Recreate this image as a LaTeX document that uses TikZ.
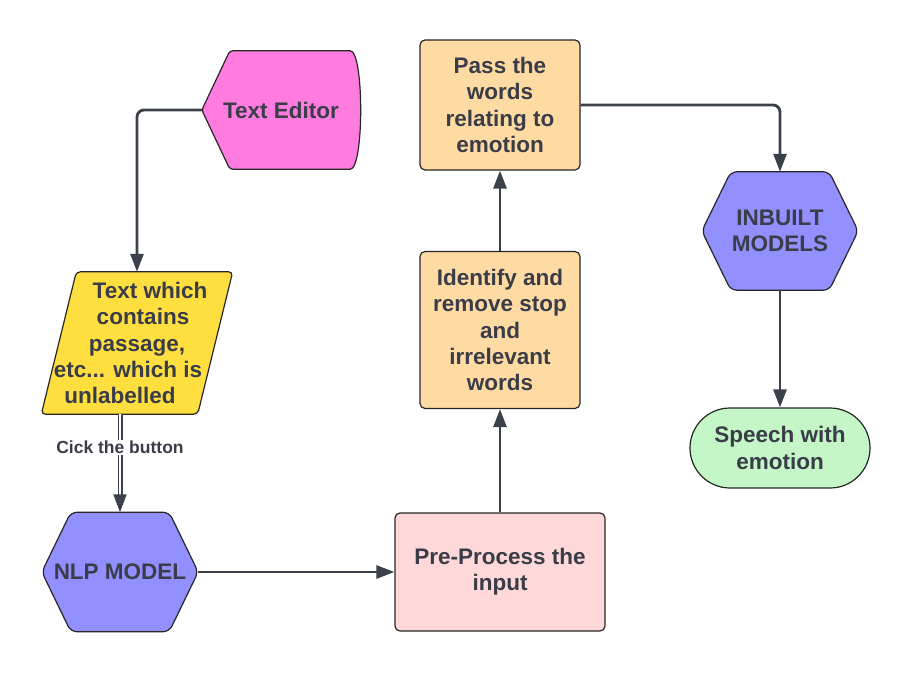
\documentclass[tikz,border=0pt]{standalone}
\usepackage{fontspec}
\setmainfont{Liberation Sans}
\usetikzlibrary{positioning, arrows.meta, shapes.misc, backgrounds}

\definecolor{inkgray}{HTML}{3A3D48}
\definecolor{linegray}{HTML}{3B404A}
\definecolor{editorpink}{HTML}{FF7BDF}
\definecolor{inputyellow}{HTML}{FFDF40}
\definecolor{modelblue}{HTML}{9290FF}
\definecolor{prepink}{HTML}{FFD9D9}
\definecolor{steporange}{HTML}{FFDBA4}
\definecolor{endgreen}{HTML}{C4F6C8}

\tikzset{
    base/.style={font=\fontsize{22.5}{26.3}\selectfont\bfseries, text=inkgray, align=center, inner sep=0pt},
    border/.style={draw=black!85, line width=1.2pt},
    procbox/.style={base, border, rounded corners=5pt, minimum width=160pt},
    endbox/.style={base, border, fill=endgreen, rounded rectangle, minimum width=180pt, minimum height=80pt},
    line/.style={draw=linegray, line width=2.8pt},
    dline/.style={draw=linegray, line width=1.9pt, double=white, double distance=1.2pt},
    lbl/.style={fill=white, text=inkgray, font=\fontsize{17.5}{20}\selectfont\bfseries, inner sep=1pt},
}

% hexagon drawn round a plain node
\newcommand{\hexround}[2]{%
    \filldraw[border, fill=#2, rounded corners=6pt] (#1.west) -- ([xshift=29pt]#1.north west) -- ([xshift=-29pt]#1.north east)
        -- (#1.east) -- ([xshift=-29pt]#1.south east) -- ([xshift=29pt]#1.south west) -- cycle;}

\begin{document}
\begin{tikzpicture}[x=1pt, y=1pt, on grid, >={Triangle[width=13pt, length=18pt]}]
    \useasboundingbox (0,0) rectangle (910,-674);

    \node[base, minimum width=158pt, minimum height=118pt] (editor) at (281,-110) {Text Editor};
    \node[base, minimum width=191pt, minimum height=142pt] (text) [below left=233pt and 144pt of editor]
        {\hspace*{26pt}Text which\\ \hspace*{12pt}contains\\ passage,\\ etc... which is\kern18pt\mbox{}\\ unlabelled\kern34pt\mbox{}};
    \node[base, minimum width=156pt, minimum height=119pt] (nlp) [below left=229pt and 17pt of text] {NLP MODEL};
    \node[procbox, fill=prepink, minimum width=210pt, minimum height=118pt] (prep) [right=380pt of nlp] {Pre-Process the\\ input};
    \node[procbox, fill=steporange, minimum height=157pt] (clean) [above=242pt of prep] {Identify and\\ remove stop\\ and\\ irrelevant\\ words};
    \node[procbox, fill=steporange, minimum height=130pt] (pass) [above=225pt of clean] {Pass the\\ words\\ relating to\\ emotion};
    \node[base, minimum width=156pt, minimum height=118pt] (inbuilt) [below right=126pt and 280pt of pass] {INBUILT\\ MODELS};
    \node[endbox] (speech) [below=217pt of inbuilt] {Speech with\\ emotion};

    \begin{scope}[on background layer]
        \filldraw[border, fill=editorpink, rounded corners=3pt]
            (editor.west) -- ([xshift=28pt]editor.north west) -- ([xshift=-13pt]editor.north east)
            .. controls ([xshift=4pt]editor.north east) and ([xshift=4pt]editor.south east) .. ([xshift=-13pt]editor.south east)
            -- ([xshift=28pt]editor.south west) -- cycle;
        \filldraw[border, fill=inputyellow, rounded corners=4pt]
            ([xshift=35pt]text.north west) -- (text.north east) -- ([xshift=-35pt]text.south east) -- (text.south west) -- cycle;
        \hexround{nlp}{modelblue}
        \hexround{inbuilt}{modelblue}
    \end{scope}

    \draw[line, ->, rounded corners=7pt] (editor.west) -| (text);
    \draw[dline, ->] (nlp.north |- text.south) -- node[lbl, pos=0.34] {Cick the button} (nlp.north);
    \draw[line, ->] (nlp) -- (prep);
    \draw[line, ->] (prep) -- (clean);
    \draw[line, ->] (clean) -- (pass);
    \draw[line, ->, rounded corners=7pt] (pass) -| (inbuilt);
    \draw[line, ->] (inbuilt) -- (speech);
\end{tikzpicture}
\end{document}
